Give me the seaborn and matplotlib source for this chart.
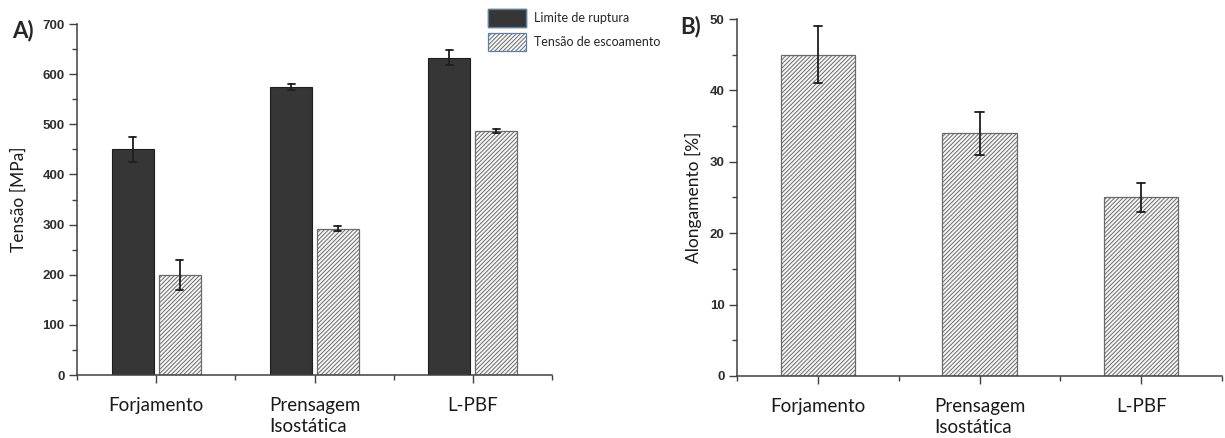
import matplotlib
matplotlib.use("Agg")
import matplotlib.pyplot as plt
from matplotlib.patches import Patch
from matplotlib.legend_handler import HandlerTuple
from matplotlib.ticker import AutoMinorLocator, FixedLocator
import seaborn as sns
import pandas as pd

# ---------------- data ----------------
categories = ["Forjamento", "Prensagem\nIsostática", "L-PBF"]
series_names = ["Limite de ruptura", "Tensão de escoamento"]
ruptura = [450, 575, 633]
ruptura_err = [25, 6, 15]
escoamento = [200, 292, 487]
escoamento_err = [30, 4.5, 4.5]
alongamento = [45, 34, 25]
alongamento_err = [4, 3, 2]
yticks_a = [0, 100, 200, 300, 400, 500, 600, 700]
yticks_b = [0, 10, 20, 30, 40, 50]

# ---------------- style ----------------
sns.set_style("ticks")
plt.rcParams["font.family"] = ["Lato", "DejaVu Sans"]
plt.rcParams["hatch.linewidth"] = 0.7

DARK = "#363636"
LIGHT = "#f7f7f7"
HATCH_EDGE = "#6a6a6a"
SPINE = "#404040"
TICKCOL = "#2e2e2e"
HATCH = "////////"

def long_table(cats, vals, errs, name):
    rows = []
    for c, v, e in zip(cats, vals, errs):
        rows.append({"cat": c, "val": v - e, "serie": name})
        rows.append({"cat": c, "val": v + e, "serie": name})
    return rows

df_a = pd.DataFrame(long_table(categories, ruptura, ruptura_err, series_names[0])
                    + long_table(categories, escoamento, escoamento_err, series_names[1]))
df_b = pd.DataFrame(long_table(categories, alongamento, alongamento_err, "Alongamento"))

minmax = lambda v: (v.min(), v.max())

fig = plt.figure(figsize=(12.25, 4.38), dpi=100)
ax1 = fig.add_axes([0.0629, 0.1438, 0.3877, 0.8012])
ax2 = fig.add_axes([0.6016, 0.1416, 0.3960, 0.8150])

# ---------------- panel A ----------------
sns.barplot(data=df_a, x="cat", y="val", hue="serie", order=categories,
            hue_order=series_names, palette=[DARK, LIGHT], saturation=1,
            width=0.59, gap=0.1, errorbar=minmax, capsize=0.09,
            err_kws={"color": "#1e1e1e", "linewidth": 1.3}, legend=False, ax=ax1)
for bar in ax1.containers[0]:
    bar.set_edgecolor("#1e1e1e")
    bar.set_linewidth(0.8)
for bar in ax1.containers[1]:
    bar.set_hatch(HATCH)
    bar.set_edgecolor(HATCH_EDGE)
    bar.set_linewidth(0.9)

# ---------------- panel B ----------------
sns.barplot(data=df_b, x="cat", y="val", order=categories, color=LIGHT,
            saturation=1, width=0.46, errorbar=minmax, capsize=0.05,
            err_kws={"color": "#1e1e1e", "linewidth": 1.3}, ax=ax2)
for bar in ax2.containers[0]:
    bar.set_hatch(HATCH)
    bar.set_edgecolor(HATCH_EDGE)
    bar.set_linewidth(0.9)

for ax, yt, yl, lab in [(ax1, yticks_a, "Tensão [MPa]", -0.105),
                        (ax2, yticks_b, "Alongamento [%]", -0.072)]:
    ax.set_xlim(-0.5, 2.5)
    ax.set_ylim(yt[0], yt[-1])
    ax.set_yticks(yt)
    ax.yaxis.set_minor_locator(AutoMinorLocator(2))
    ax.xaxis.set_minor_locator(FixedLocator([-0.5, 0.5, 1.5, 2.5]))
    ax.set_xlabel("")
    ax.set_ylabel(yl, fontsize=12.5, color="#1a1a1a")
    ax.yaxis.set_label_coords(lab, 0.5)
    sns.despine(ax=ax)
    for s in ("left", "bottom"):
        ax.spines[s].set_color(SPINE)
        ax.spines[s].set_linewidth(1.1)
    ax.tick_params(axis="both", which="major", direction="out", length=6,
                   width=1.0, color=SPINE)
    ax.tick_params(axis="both", which="minor", direction="out", length=3.5,
                   width=1.0, color=SPINE)
    ax.tick_params(axis="y", which="major", labelsize=9.5, labelcolor=TICKCOL, pad=3)
    ax.tick_params(axis="x", which="major", labelsize=13.5, labelcolor="#1a1a1a", pad=10)
    for t in ax.get_yticklabels():
        t.set_fontfamily(["Liberation Sans", "DejaVu Sans"])
        t.set_fontweight("bold")
    for t in ax.get_xticklabels():
        t.set_linespacing(1.3)
        t.set_multialignment("left")

# ---------------- legend ----------------
border = dict(facecolor="none", edgecolor="#5b7fa6", linewidth=0.9)
h1 = (Patch(facecolor=DARK, edgecolor=DARK), Patch(**border))
h2 = (Patch(facecolor=LIGHT, edgecolor=HATCH_EDGE, hatch=HATCH, linewidth=0),
      Patch(**border))
fig.legend([h1, h2], series_names,
           handler_map={tuple: HandlerTuple(ndivide=1, pad=0)},
           loc="upper left", bbox_to_anchor=(488 / 1225, 1 - 9 / 438),
           frameon=False, fontsize=9, handlelength=3.0, handleheight=1.8,
           labelspacing=0.5, handletextpad=0.7, borderpad=0, borderaxespad=0)

# ---------------- panel labels ----------------
fig.text(12 / 1225, 1 - 20 / 438, "A)", fontsize=16, fontweight="bold", va="top", ha="left")
fig.text(680 / 1225, 1 - 16 / 438, "B)", fontsize=16, fontweight="bold", va="top", ha="left")

fig.savefig("out.png", dpi=100)
